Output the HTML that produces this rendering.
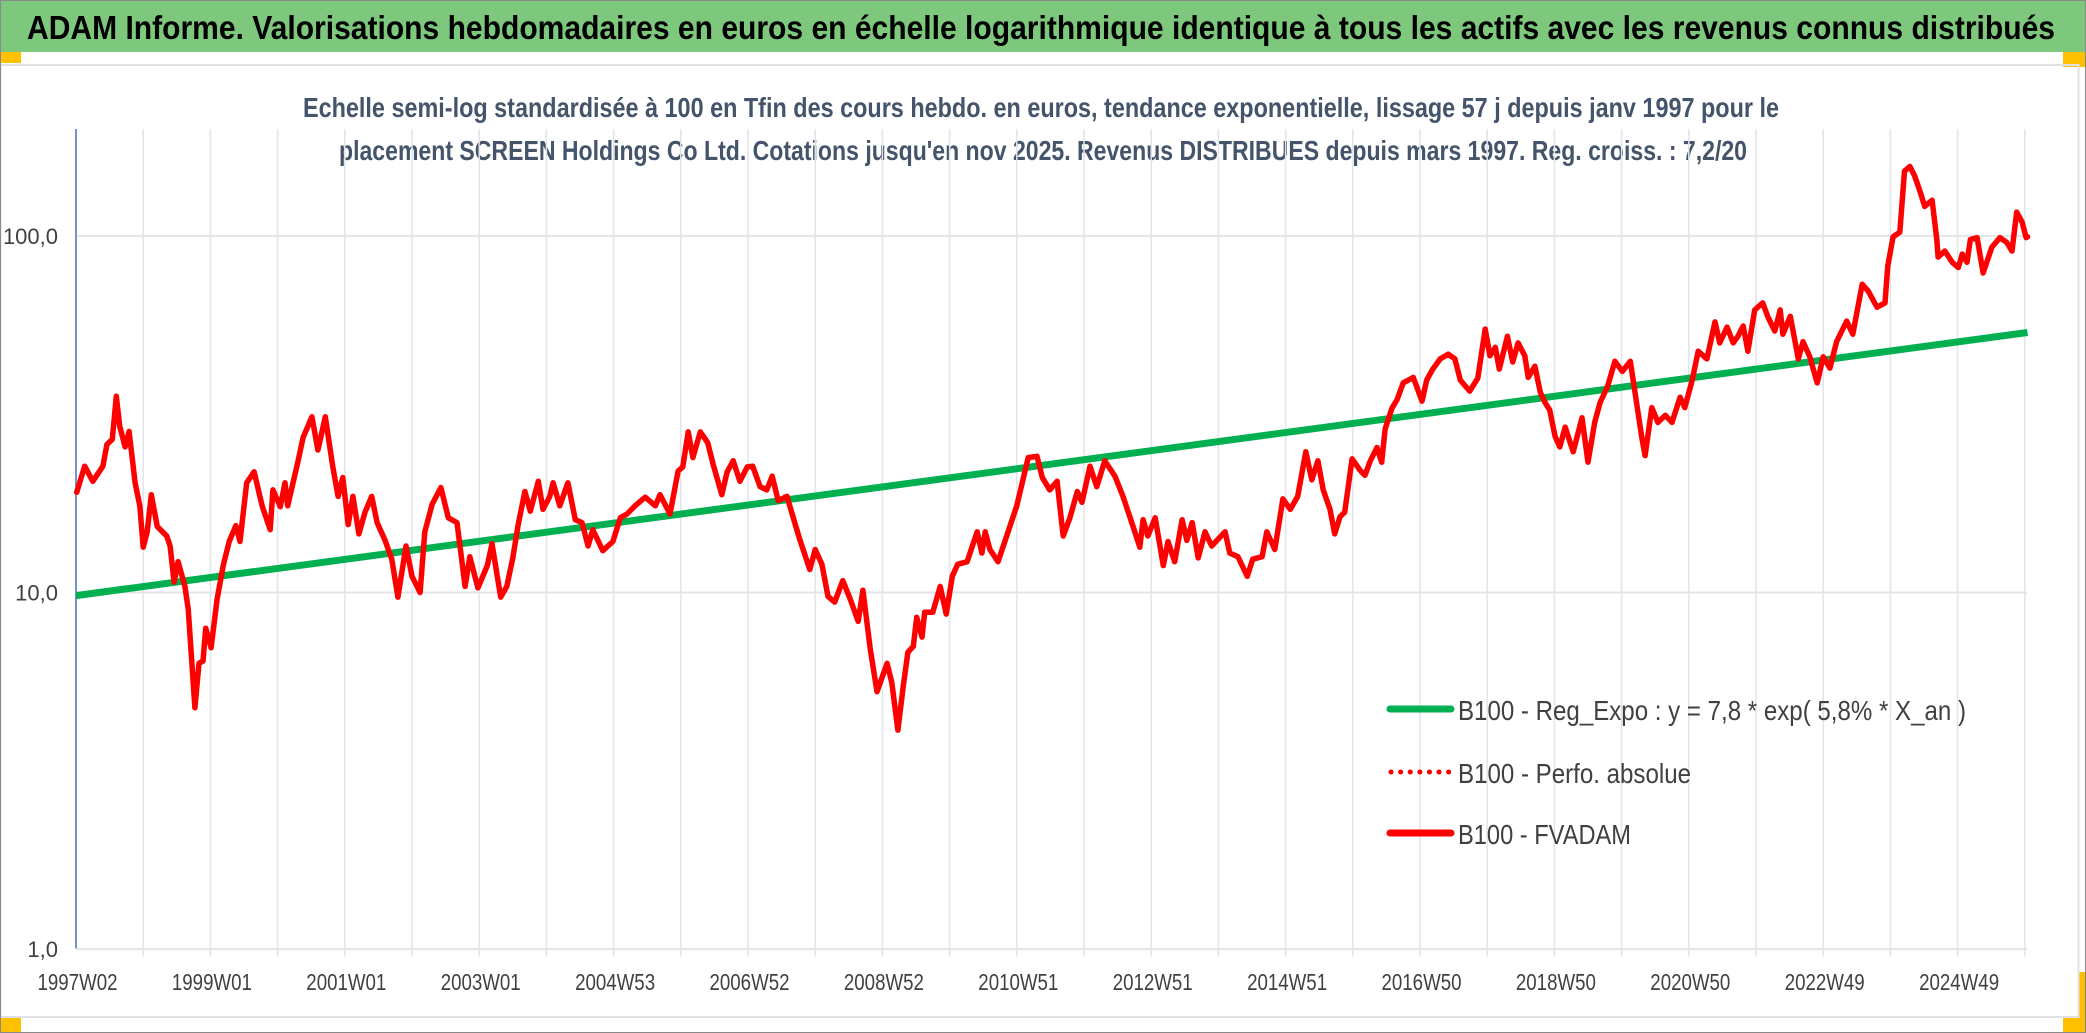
<!DOCTYPE html>
<html><head><meta charset="utf-8">
<style>
html,body{margin:0;padding:0;background:#fff;}
svg{display:block;}
text{font-family:"Liberation Sans",sans-serif;}
</style></head>
<body>
<svg id="chart" width="2086" height="1033" viewBox="0 0 2086 1033" xmlns="http://www.w3.org/2000/svg">
<rect x="0" y="0" width="2086" height="1033" fill="#ffffff"/>
<rect x="0" y="0" width="2086" height="52" fill="#7dc87d"/>
<text x="27" y="39" font-size="33" font-weight="bold" fill="#000" textLength="2028" lengthAdjust="spacingAndGlyphs">ADAM Informe. Valorisations hebdomadaires en euros en échelle logarithmique identique à tous les actifs avec les revenus connus distribués</text>
<rect x="0" y="52" width="21" height="11" fill="#ffc000"/>
<rect x="2063" y="52" width="23" height="15" fill="#ffc000"/>
<rect x="0" y="1018" width="21" height="15" fill="#ffc000"/>
<rect x="2063" y="1018" width="23" height="15" fill="#ffc000"/>
<rect x="2079" y="972" width="7" height="61" fill="#ffc000"/>
<rect x="0.5" y="65" width="2078" height="952" fill="none" stroke="#dfe1e6" stroke-width="2"/>
<rect x="0.5" y="0.5" width="2085" height="1032" fill="none" stroke="#8a8a8a" stroke-width="1"/>
<text x="1041" y="117" font-size="28" font-weight="bold" fill="#44546a" text-anchor="middle" textLength="1476" lengthAdjust="spacingAndGlyphs">Echelle semi-log standardisée à 100 en Tfin des cours hebdo. en euros, tendance exponentielle, lissage 57 j depuis janv 1997 pour le</text>
<text x="1043" y="160" font-size="28" font-weight="bold" fill="#44546a" text-anchor="middle" textLength="1408" lengthAdjust="spacingAndGlyphs">placement SCREEN Holdings Co Ltd. Cotations jusqu'en nov 2025. Revenus DISTRIBUES depuis mars 1997. Reg. croiss. : 7,2/20</text>
<g id="grid"></g>
<g id="axes"></g>
<g id="series"></g>
<g>
  <line x1="1390" y1="709" x2="1451" y2="709" stroke="#00b050" stroke-width="7" stroke-linecap="round"/>
  <text x="1458" y="720" font-size="28" fill="#404040" textLength="508" lengthAdjust="spacingAndGlyphs">B100 - Reg_Expo : y = 7,8 * exp( 5,8% *  X_an )</text>
  <line x1="1391" y1="772" x2="1451" y2="772" stroke="#ff0000" stroke-width="5" stroke-dasharray="0.1 9.5" stroke-linecap="round"/>
  <text x="1458" y="783" font-size="28" fill="#404040" textLength="233" lengthAdjust="spacingAndGlyphs">B100 - Perfo. absolue</text>
  <line x1="1390" y1="833" x2="1451" y2="833" stroke="#ff0000" stroke-width="7" stroke-linecap="round"/>
  <text x="1458" y="844" font-size="28" fill="#404040" textLength="173" lengthAdjust="spacingAndGlyphs">B100 - FVADAM</text>
</g>
</svg>
<script>
const xTickLabels = ["1997W02","1999W01","2001W01","2003W01","2004W53","2006W52","2008W52","2010W51","2012W51","2014W51","2016W50","2018W50","2020W50","2022W49","2024W49"];
const yTickValues = [1, 10, 100];
const yTickLabels = ["1,0","10,0","100,0"];
const regStart = 9.8;
const regRate = 0.0585;
const regYears = [1997.0, 2026.04];
const fvYears = [1997.01,1997.13,1997.25,1997.40,1997.46,1997.54,1997.60,1997.65,1997.73,1997.79,1997.88,1997.95,1998.00,1998.06,1998.12,1998.21,1998.35,1998.40,1998.46,1998.52,1998.62,1998.67,1998.77,1998.83,1998.89,1998.93,1999.01,1999.10,1999.19,1999.28,1999.38,1999.44,1999.54,1999.65,1999.77,1999.89,1999.93,2000.04,2000.11,2000.15,2000.30,2000.38,2000.51,2000.60,2000.71,2000.82,2000.90,2000.97,2001.05,2001.12,2001.21,2001.30,2001.40,2001.48,2001.60,2001.70,2001.79,2001.91,2002.00,2002.12,2002.19,2002.30,2002.43,2002.54,2002.67,2002.79,2002.86,2002.98,2003.12,2003.19,2003.32,2003.41,2003.50,2003.58,2003.68,2003.76,2003.88,2003.95,2004.05,2004.10,2004.20,2004.32,2004.43,2004.53,2004.62,2004.69,2004.84,2004.99,2005.10,2005.20,2005.32,2005.47,2005.62,2005.69,2005.84,2005.96,2006.03,2006.11,2006.18,2006.29,2006.40,2006.48,2006.61,2006.69,2006.78,2006.88,2006.99,2007.07,2007.18,2007.28,2007.36,2007.45,2007.58,2007.67,2007.77,2007.92,2008.00,2008.10,2008.19,2008.29,2008.41,2008.52,2008.64,2008.71,2008.82,2008.92,2009.07,2009.14,2009.23,2009.31,2009.38,2009.46,2009.51,2009.59,2009.63,2009.75,2009.86,2009.95,2010.04,2010.12,2010.26,2010.41,2010.48,2010.53,2010.60,2010.72,2010.87,2011.00,2011.17,2011.30,2011.38,2011.49,2011.60,2011.69,2011.79,2011.90,2011.97,2012.09,2012.19,2012.31,2012.46,2012.58,2012.73,2012.83,2012.88,2012.95,2013.06,2013.18,2013.25,2013.35,2013.46,2013.53,2013.61,2013.70,2013.80,2013.90,2014.10,2014.17,2014.29,2014.43,2014.51,2014.65,2014.72,2014.84,2014.96,2015.07,2015.18,2015.30,2015.39,2015.48,2015.56,2015.66,2015.73,2015.81,2015.88,2015.99,2016.11,2016.18,2016.26,2016.36,2016.43,2016.48,2016.58,2016.66,2016.75,2016.90,2017.03,2017.10,2017.19,2017.30,2017.42,2017.52,2017.60,2017.74,2017.86,2017.97,2018.04,2018.12,2018.18,2018.30,2018.38,2018.46,2018.56,2018.61,2018.71,2018.79,2018.86,2018.93,2019.01,2019.08,2019.16,2019.28,2019.41,2019.50,2019.60,2019.68,2019.79,2019.90,2020.01,2020.13,2020.20,2020.30,2020.35,2020.45,2020.54,2020.65,2020.75,2020.87,2020.94,2021.05,2021.14,2021.27,2021.39,2021.46,2021.57,2021.66,2021.73,2021.81,2021.88,2021.98,2022.10,2022.18,2022.28,2022.36,2022.40,2022.51,2022.63,2022.70,2022.80,2022.91,2023.00,2023.10,2023.20,2023.35,2023.44,2023.58,2023.67,2023.80,2023.92,2023.96,2024.04,2024.14,2024.21,2024.29,2024.36,2024.44,2024.51,2024.62,2024.69,2024.71,2024.81,2024.92,2025.01,2025.07,2025.14,2025.19,2025.29,2025.38,2025.51,2025.63,2025.73,2025.81,2025.88,2025.96,2026.02,2026.04];
const fvValues = [19.1,22.6,20.5,22.6,26.0,26.9,35.5,29.3,25.6,28.3,20.3,17.5,13.4,14.8,18.8,15.3,14.4,13.5,10.7,12.2,10.4,9.0,4.75,6.33,6.42,7.94,7.0,9.57,11.9,13.9,15.4,13.9,20.3,21.8,17.5,15.0,19.4,17.4,20.3,17.5,23.2,27.2,31.1,25.1,31.1,22.6,18.6,21.0,15.5,18.6,14.6,16.8,18.6,15.7,14.0,12.4,9.7,13.5,11.1,10.0,14.8,17.7,19.7,16.2,15.7,10.4,12.6,10.3,11.9,13.7,9.7,10.4,12.5,15.5,19.2,16.9,20.5,17.1,18.6,20.3,17.5,20.3,16.0,15.7,13.5,15.0,13.1,13.9,16.2,16.6,17.5,18.5,17.5,18.8,16.6,21.9,22.5,28.2,23.9,28.2,26.3,22.9,18.8,21.8,23.4,20.5,22.5,22.6,19.8,19.4,21.2,18.1,18.6,16.3,14.1,11.6,13.2,12.0,9.75,9.4,10.8,9.6,8.3,10.15,6.93,5.27,6.33,5.59,4.11,5.45,6.8,7.06,8.52,7.5,8.8,8.8,10.4,8.7,11.1,12.0,12.2,14.8,12.9,14.8,13.2,12.2,14.8,17.5,23.9,24.1,21.0,19.4,20.5,14.4,16.2,19.2,17.9,22.6,19.8,23.4,21.2,18.6,15.3,13.4,16.0,14.4,16.2,11.9,13.9,12.2,16.0,14.0,15.7,12.5,14.8,13.5,14.8,12.9,12.6,11.1,12.4,12.6,14.8,13.2,18.3,17.1,18.6,24.8,20.7,23.4,19.4,17.1,14.6,16.3,16.8,23.7,22.0,21.3,23.4,25.5,23.2,28.7,32.8,34.8,38.7,40.1,34.4,39.4,42.3,45.2,46.6,45.2,39.4,36.7,39.9,54.8,46.1,48.7,42.3,52.3,44.3,50.1,46.1,40.1,43.1,36.4,34.1,32.5,27.4,25.6,29.1,24.8,30.9,23.2,30.0,34.1,37.8,44.5,41.7,44.5,36.4,27.2,24.2,33.0,30.0,31.4,30.0,35.3,33.0,39.4,47.5,45.2,57.4,50.1,55.5,50.1,52.3,55.9,47.5,62.0,64.9,59.1,54.1,62.0,53.0,59.5,45.2,50.5,45.8,38.7,45.8,42.6,50.5,57.7,53.0,73.2,70.0,63.1,64.9,82.1,99.4,102.4,152,156.5,147.4,133.4,121,125.9,97.7,87.2,90.7,84.3,81.5,88.9,84.3,97.7,98.9,78.7,93.0,98.9,95.9,90.7,116.6,109.3,98.9,99.4];

const NS = "http://www.w3.org/2000/svg";
const X0 = 76, PX_PER_YEAR = 67.2, Y10 = 592.5, PX_PER_DECADE = 356.6;
const PLOT_TOP = 129, PLOT_BOTTOM = 948.5, PLOT_RIGHT = 2027;
function xScale(yr){ return X0 + (yr - 1997) * PX_PER_YEAR; }
function yScale(v){ return Y10 - (Math.log10(v) - 1) * PX_PER_DECADE; }

const grid = document.getElementById('grid');
const axes = document.getElementById('axes');
const series = document.getElementById('series');

for (let k = 1; k <= 29; k++) {
  const x = X0 + k * PX_PER_YEAR;
  const l = document.createElementNS(NS, 'line');
  l.setAttribute('x1', x); l.setAttribute('x2', x);
  l.setAttribute('y1', PLOT_TOP); l.setAttribute('y2', PLOT_BOTTOM + 8);
  l.setAttribute('stroke', '#e2e4e9'); l.setAttribute('stroke-width', '1.5');
  
  
  grid.appendChild(l);
}
yTickValues.forEach((v, i) => {
  const y = yScale(v);
  const l = document.createElementNS(NS, 'line');
  l.setAttribute('x1', X0); l.setAttribute('x2', PLOT_RIGHT);
  l.setAttribute('y1', y); l.setAttribute('y2', y);
  l.setAttribute('stroke', '#e2e4e9'); l.setAttribute('stroke-width', '2');
  
  
  grid.appendChild(l);
  const t = document.createElementNS(NS, 'text');
  t.setAttribute('x', 58); t.setAttribute('y', y + 8);
  t.setAttribute('text-anchor', 'end'); t.setAttribute('font-size', '22');
  t.setAttribute('fill', '#404040');
  t.textContent = yTickLabels[i];
  
  
  axes.appendChild(t);
});
xTickLabels.forEach((lab, i) => {
  const x = X0 + i * 2 * PX_PER_YEAR + 1.5;
  const t = document.createElementNS(NS, 'text');
  t.setAttribute('x', x); t.setAttribute('y', 990);
  t.setAttribute('text-anchor', 'middle'); t.setAttribute('font-size', '23');
  t.setAttribute('fill', '#404040');
  t.setAttribute('textLength', '80'); t.setAttribute('lengthAdjust', 'spacingAndGlyphs');
  t.textContent = lab;
  
  
  axes.appendChild(t);
});
const yAxis = document.createElementNS(NS, 'line');
yAxis.setAttribute('x1', X0); yAxis.setAttribute('x2', X0);
yAxis.setAttribute('y1', PLOT_TOP); yAxis.setAttribute('y2', PLOT_BOTTOM);
yAxis.setAttribute('stroke', '#4472c4'); yAxis.setAttribute('stroke-width', '1.5');


axes.appendChild(yAxis);

const regPts = regYears.map(yr => xScale(yr).toFixed(1) + ',' + yScale(regStart * Math.exp(regRate * (yr - regYears[0]))).toFixed(1));
const reg = document.createElementNS(NS, 'polyline');
reg.setAttribute('points', regPts.join(' '));
reg.setAttribute('fill', 'none'); reg.setAttribute('stroke', '#00b050'); reg.setAttribute('stroke-width', '7');


series.appendChild(reg);

const fvPts = fvYears.map((yr, i) => xScale(yr).toFixed(1) + ',' + yScale(fvValues[i]).toFixed(1));
const fv = document.createElementNS(NS, 'polyline');
fv.setAttribute('points', fvPts.join(' '));
fv.setAttribute('fill', 'none'); fv.setAttribute('stroke', '#ff0000'); fv.setAttribute('stroke-width', '5.5');
fv.setAttribute('stroke-linejoin', 'round'); fv.setAttribute('stroke-linecap', 'round');


series.appendChild(fv);
</script>
</body></html>
